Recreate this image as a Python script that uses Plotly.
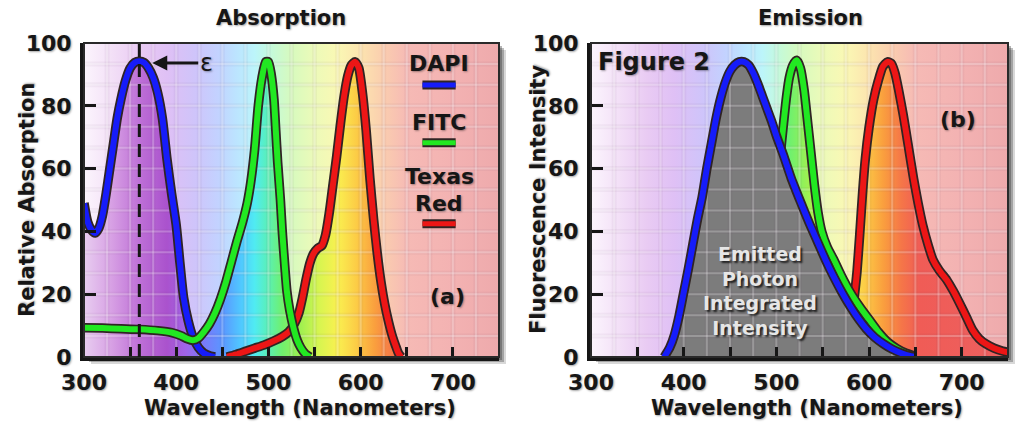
import numpy as np
import plotly.graph_objects as go

# ---------------- data ----------------
# Absorption spectra: wavelength (nm) and relative absorption
dapi_abs_wl = [300, 304, 308, 312, 316, 320, 324, 328, 332, 336, 340, 345, 350, 355, 360, 365, 370,
               375, 380, 385, 390, 395, 400, 404, 408, 413, 418, 424, 430, 437, 442]
dapi_abs = [49, 43, 40.5, 39.5, 41, 45, 52, 60, 68, 76, 82, 88, 92, 93.8, 94.2, 93.8, 92,
            89, 84, 76, 63, 52, 42, 30, 19, 11.5, 6.5, 3, 1.2, 0.3, 0]

fitc_abs_wl = [300, 320, 340, 360, 380, 395, 405, 412, 418, 424, 430, 436, 442, 448, 454, 460, 466,
               472, 477, 481, 485, 489, 493, 497, 500, 503, 506, 508, 510, 513, 515, 518, 520, 523,
               527, 531, 535, 540, 545]
fitc_abs = [9.3, 9.2, 9.0, 8.8, 8.4, 7.8, 6.8, 5.8, 5.3, 6, 8, 10.5, 14, 18.5, 24, 30.5, 37,
            43, 49, 56, 66, 80, 89, 94, 94, 90, 82, 72, 62, 50, 40, 28, 21, 15,
            9.5, 5.5, 3, 1, 0]

texred_abs_wl = [455, 465, 475, 485, 495, 505, 515, 522, 528, 533, 537, 541, 545, 549, 553, 558, 562,
                 566, 570, 574, 578, 582, 586, 590, 594, 598, 602, 606, 610, 614, 618, 622, 626,
                 630, 634, 638, 641, 644]
texred_abs = [0, 0.8, 1.8, 2.8, 3.8, 5, 6.5, 8, 10.5, 14, 19, 25, 30, 33, 34.5, 35.5, 39,
              46, 55, 64, 74, 83, 89.5, 93, 94, 92, 84, 72, 57, 44, 33, 24, 17,
              11.5, 7, 3.5, 1.2, 0]

# Emission spectra: wavelength (nm) and fluorescence intensity
dapi_em_wl = [379, 385, 390, 395, 400, 405, 410, 415, 420, 425, 430, 435, 440, 445, 450, 455, 460,
              465, 470, 475, 480, 485, 490, 495, 500, 508, 516, 526, 535, 544, 553, 562, 571,
              580, 589, 597, 606, 615, 625, 635, 645, 650]
dapi_em = [0, 3, 7, 13, 20.5, 28, 36, 44, 51, 60, 68, 76, 82.5, 87.5, 91, 93, 94,
           94, 93, 90.5, 87, 83, 79, 75, 70.5, 64, 57, 49.5, 43, 37, 31, 25.5, 20.5,
           16, 12, 9, 6.3, 4.3, 2.5, 1.2, 0.3, 0]

fitc_em_wl = [505, 508, 511, 514, 518, 522, 526, 530, 533, 537, 541, 545, 549, 555, 562, 570, 580,
              590, 600, 610, 620, 630, 640, 648]
fitc_em = [66.5, 75, 83, 89, 93, 94.5, 92, 85, 77, 66, 55, 46, 40, 35, 31, 26, 20.5,
           16, 12, 8, 4.8, 2.7, 1.2, 0.4]

texred_em_wl = [584, 587, 590, 593, 596, 600, 605, 610, 615, 620, 624, 628, 632, 637, 642, 648, 653,
                658, 664, 669, 676, 684, 691, 698, 705, 712, 719, 726, 735, 744, 750]
texred_em = [18.7, 27, 39, 52, 63, 73, 82, 88, 92.5, 94, 93.5, 90.5, 85, 77, 68, 57, 49,
             42, 35.5, 31, 27.5, 24.5, 21, 17, 12.8, 8.5, 5.8, 4.2, 2.8, 1.9, 1.5]

x_tick_vals = list(range(300, 751, 50))
x_tick_text = ["300", "", "400", "", "500", "", "600", "", "700", ""]
y_tick_vals = [0, 20, 40, 60, 80, 100]
y_tick_text = ["0", "20", "40", "60", "80", "100"]

# ---------------- style ----------------
W, H = 1017, 422
ML, MR, MT, MB = 84, 9, 43, 65
WL_MIN, WL_MAX = 300, 750
FONT = "DejaVu Sans"
INK = "#161616"
TXT_SHADOW = "1px 1px 2px rgba(0,0,0,0.35)"

# pastel spectrum behind the plots
bg_stops = [(300, (252, 245, 253)), (330, (243, 224, 247)), (360, (233, 203, 243)),
            (390, (223, 192, 245)), (420, (207, 196, 250)), (445, (195, 210, 255)),
            (465, (188, 228, 255)), (485, (188, 245, 250)), (505, (198, 250, 215)),
            (525, (215, 250, 190)), (550, (236, 250, 185)), (575, (250, 248, 180)),
            (600, (252, 228, 175)), (625, (250, 205, 175)), (650, (246, 186, 181)),
            (700, (243, 178, 178)), (750, (238, 170, 172))]
# saturated spectrum under the curves
sat_stops = [(300, (232, 205, 240)), (330, (215, 160, 228)), (360, (190, 112, 215)),
             (390, (170, 82, 205)), (410, (160, 100, 232)), (430, (122, 122, 250)),
             (450, (90, 150, 255)), (470, (80, 200, 255)), (485, (80, 235, 242)),
             (500, (90, 240, 180)), (515, (112, 240, 110)), (535, (160, 240, 80)),
             (555, (215, 245, 80)), (575, (250, 240, 80)), (595, (252, 205, 70)),
             (615, (250, 160, 62)), (635, (245, 118, 72)), (655, (240, 92, 86)),
             (750, (236, 96, 96))]


def colorscale(stops):
    return [[(w - WL_MIN) / (WL_MAX - WL_MIN), "rgb(%d,%d,%d)" % c] for w, c in stops]


BG_GRAD = dict(type="horizontal", start=WL_MIN, stop=WL_MAX, colorscale=colorscale(bg_stops))
SAT_GRAD = dict(type="horizontal", start=WL_MIN, stop=WL_MAX, colorscale=colorscale(sat_stops))

BLUE, GREEN, RED = "rgb(22,28,250)", "rgb(34,232,34)", "rgb(236,22,22)"
OUTLINE = "rgb(48,36,36)"
GRAY_FILL = "rgb(124,124,124)"

fig = go.Figure()


def add_background(xa, ya):
    fig.add_trace(go.Scatter(x=[WL_MIN, WL_MAX, WL_MAX, WL_MIN, WL_MIN], y=[0, 0, 100, 100, 0],
                             mode="lines", line=dict(width=0), fill="toself", fillgradient=BG_GRAD,
                             xaxis=xa, yaxis=ya, hoverinfo="skip", showlegend=False))


def add_fill(wl, val, xa, ya, grad=None, color=None):
    kw = dict(fillgradient=grad) if grad else dict(fillcolor=color)
    fig.add_trace(go.Scatter(x=wl, y=val, mode="lines", line=dict(width=0, shape="spline", smoothing=0.6),
                             fill="tozeroy", xaxis=xa, yaxis=ya, hoverinfo="skip", showlegend=False, **kw))


def add_grid(xa, ya):
    gx, gy = [], []
    for v in np.arange(325, WL_MAX, 25):
        gx += [v, v, None]
        gy += [0, 100, None]
    for h in np.arange(1, 15) * 100 / 15:
        gx += [WL_MIN, WL_MAX, None]
        gy += [h, h, None]
    fig.add_trace(go.Scatter(x=gx, y=gy, mode="lines", line=dict(color="rgba(90,60,100,0.05)", width=5),
                             xaxis=xa, yaxis=ya, hoverinfo="skip", showlegend=False))
    fig.add_trace(go.Scatter(x=gx, y=gy, mode="lines", line=dict(color="rgba(255,255,255,0.24)", width=2),
                             xaxis=xa, yaxis=ya, hoverinfo="skip", showlegend=False))


def add_curve(wl, val, color, xa, ya):
    for c, w in ((OUTLINE, 9.5), (color, 6)):
        fig.add_trace(go.Scatter(x=wl, y=val, mode="lines", line=dict(color=c, width=w, shape="spline", smoothing=0.6),
                                 xaxis=xa, yaxis=ya, hoverinfo="skip", showlegend=False))


# ---- absorption panel ----
add_background("x", "y")
for wl, val in ((dapi_abs_wl, dapi_abs), (fitc_abs_wl, fitc_abs), (texred_abs_wl, texred_abs)):
    add_fill(wl, val, "x", "y", grad=SAT_GRAD)
add_grid("x", "y")
add_curve(texred_abs_wl, texred_abs, RED, "x", "y")
add_curve(dapi_abs_wl, dapi_abs, BLUE, "x", "y")
add_curve(fitc_abs_wl, fitc_abs, GREEN, "x", "y")

# ---- emission panel ----
add_background("x2", "y2")
add_fill(texred_em_wl, texred_em, "x2", "y2", grad=SAT_GRAD)
add_fill(fitc_em_wl, fitc_em, "x2", "y2", grad=SAT_GRAD)
add_fill(dapi_em_wl, dapi_em, "x2", "y2", color=GRAY_FILL)
add_grid("x2", "y2")
add_curve(texred_em_wl, texred_em, RED, "x2", "y2")
add_curve(fitc_em_wl, fitc_em, GREEN, "x2", "y2")
add_curve(dapi_em_wl, dapi_em, BLUE, "x2", "y2")

# ---- axes ----
plot_w = W - ML - MR
plot_h = H - MT - MB
left_dom = [0, (499 - ML) / plot_w]
right_dom = [(591 - ML) / plot_w, 1]

tickfont = dict(family=FONT, size=22, color=INK, weight="bold", shadow=TXT_SHADOW)
xcommon = dict(range=[WL_MIN, WL_MAX], tickvals=x_tick_vals, ticktext=x_tick_text, ticks="inside",
               ticklen=10, tickwidth=3, tickcolor=INK, showline=True, linewidth=4, linecolor=INK,
               showgrid=False, zeroline=False, tickfont=tickfont, ticklabelstandoff=3, fixedrange=True)
ycommon = dict(range=[0, 100], tickvals=y_tick_vals, ticktext=y_tick_text, ticks="inside",
               ticklen=12, tickwidth=3, tickcolor=INK, showline=True, linewidth=4, linecolor=INK,
               showgrid=False, zeroline=False, tickfont=tickfont, ticklabelstandoff=4, fixedrange=True)

fig.update_layout(
    width=W, height=H, margin=dict(l=ML, r=MR, t=MT, b=MB),
    paper_bgcolor="white", plot_bgcolor="white", showlegend=False,
    xaxis=dict(domain=left_dom, anchor="y", **xcommon),
    yaxis=dict(domain=[0, 1], anchor="x", **ycommon),
    xaxis2=dict(domain=right_dom, anchor="y2", **xcommon),
    yaxis2=dict(domain=[0, 1], anchor="x2", **ycommon),
)


def px_x(p):
    return (p - ML) / plot_w


def px_y(p):
    return (H - MB - p) / plot_h


# drop shadows and frames around each plot
for (x0, x1) in ((84, 499), (591, 1008)):
    for off, op in ((7, 0.18), (5, 0.3), (3, 0.35)):
        fig.add_shape(type="rect", xref="paper", yref="paper", layer="below",
                      x0=px_x(x0 + off), x1=px_x(x1 + off), y0=px_y(357 + off), y1=px_y(43 + off),
                      line=dict(width=0), fillcolor="rgba(40,40,40,%.2f)" % op)
for xa, ya in (("x", "y"), ("x2", "y2")):
    fig.add_shape(type="rect", xref=xa + " domain", yref=ya + " domain", x0=0, x1=1, y0=0, y1=1,
                  line=dict(color="#2a2a2a", width=2), fillcolor="rgba(0,0,0,0)", layer="above")

# excitation maximum marker
fig.add_shape(type="line", xref="x", yref="y", x0=360, x1=360, y0=0, y1=100,
              line=dict(color=INK, width=3, dash="13px,7px"), layer="above")

# legend keys
legend_keys = [(86.6, BLUE), (68.2, GREEN), (42.4, RED)]
for yk, col in legend_keys:
    for c, w in ((OUTLINE, 9), (col, 5)):
        fig.add_shape(type="line", xref="x", yref="y", x0=667, x1=703, y0=yk, y1=yk,
                      line=dict(color=c, width=w), layer="above")


def label(text, x, y, size, xref="paper", yref="paper", xanchor="center", color=INK,
          shadow=TXT_SHADOW, textangle=0, **kw):
    fig.add_annotation(text=text, x=x, y=y, xref=xref, yref=yref, xanchor=xanchor, yanchor="middle",
                       showarrow=False, textangle=textangle, borderpad=0,
                       font=dict(family=FONT, size=size, color=color, weight="bold", shadow=shadow), **kw)


label("Absorption", px_x(281), px_y(18), 21)
label("Emission", px_x(810), px_y(18), 21)
label("Wavelength (Nanometers)", px_x(300), px_y(408), 21)
label("Wavelength (Nanometers)", px_x(807), px_y(408), 21)
label("Relative Absorption", px_x(27), px_y(200), 21, textangle=-90)
label("Fluorescence Intensity", px_x(538), px_y(200), 21, textangle=-90)

label("DAPI", 685, 93.6, 22, xref="x", yref="y")
label("FITC", 685, 74.8, 22, xref="x", yref="y")
label("Texas", 685, 57.6, 22, xref="x", yref="y")
label("Red", 685, 49.0, 22, xref="x", yref="y")
label("(a)", 694, 19.4, 22, xref="x", yref="y")

label("Figure 2", 306.5, 94, 24, xref="x2", yref="y2", xanchor="left")
label("(b)", 696, 75.5, 22, xref="x2", yref="y2")
label("Emitted<br>Photon<br>Integrated<br>Intensity", 482, 21, 19, xref="x2", yref="y2",
      color="#e6e6e6", shadow="2px 2px 2px rgba(0,0,0,0.75)")

fig.add_annotation(text="ε", x=374, y=93.6, xref="x", yref="y", ax=54, ay=0, axref="pixel",
                   showarrow=True, arrowhead=2, arrowsize=1, arrowwidth=3, arrowcolor=INK,
                   font=dict(family=FONT, size=24, color=INK, shadow=TXT_SHADOW))

fig.write_html("out.html")
